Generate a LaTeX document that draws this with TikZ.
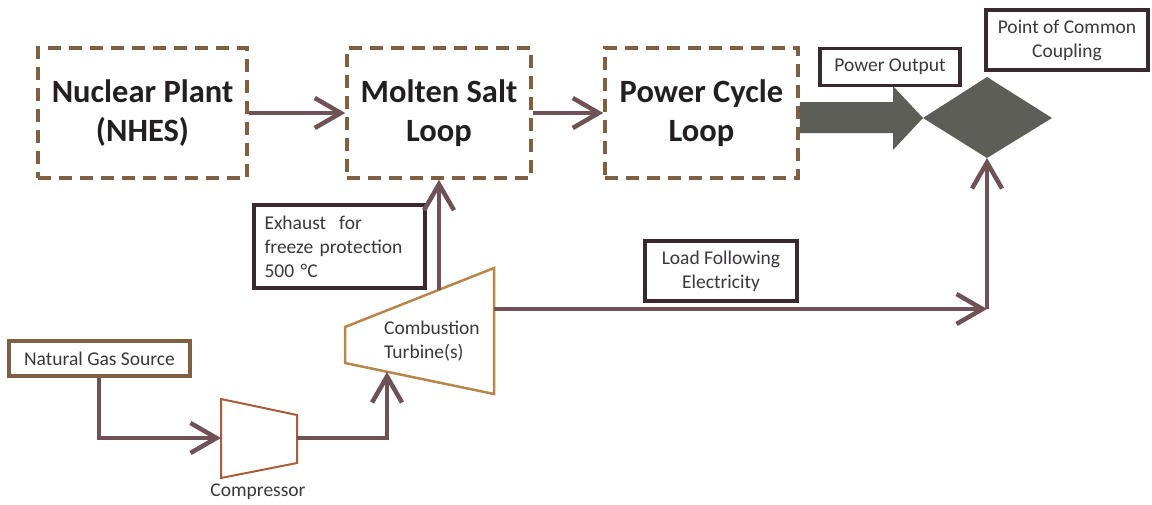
\documentclass[tikz,border=0pt]{standalone}
\usepackage{fontspec}
\setmainfont{Carlito}
\usetikzlibrary{arrows.meta}
\definecolor{loopbrown}{RGB}{128,96,64}
\definecolor{flowcol}{RGB}{110,82,86}
\definecolor{boxdark}{RGB}{58,42,46}
\definecolor{massfill}{RGB}{94,94,88}
\definecolor{bigtext}{RGB}{35,31,32}
\definecolor{smalltext}{RGB}{60,55,62}
\definecolor{turbcol}{RGB}{184,134,75}
\definecolor{compcol}{RGB}{168,92,58}
\tikzset{
  loopbox/.style={draw=loopbrown, line width=3.5pt, dash pattern=on 13pt off 8pt,
    align=center, text=bigtext, font=\fontsize{32.5}{39}\selectfont\bfseries,
    minimum height=130pt},
  flow/.style={draw=flowcol, line width=4.5pt,
    -{Straight Barb[length=26pt,width=30pt,line width=4.5pt]}},
  labelbox/.style={draw=boxdark, line width=3.5pt, fill=white, text=smalltext,
    font=\fontsize{19.5}{24}\selectfont, align=center, inner sep=0pt},
  plainlabel/.style={text=smalltext, font=\fontsize{19.5}{24}\selectfont, inner sep=0pt}
}
\begin{document}
\begin{tikzpicture}[x=1pt,y=-1pt]
\useasboundingbox (0,0) rectangle (1152,504);

% main loops
\node[loopbox, minimum width=209pt] (nuc) at (142.5,113) {Nuclear Plant\\(NHES)};
\node[loopbox, minimum width=184pt] (msl) at (439,113) {Molten Salt\\Loop};
\node[loopbox, minimum width=193pt] (pcl) at (701.5,113) {Power Cycle\\Loop};

\draw[flow] (nuc.east) -- (msl.west);
\draw[flow] (msl.east) -- (pcl.west);

% power output arrow and point of common coupling
\coordinate (poS) at (800,102);
\coordinate (pccL) at (923,118);
\coordinate (pccT) at (987,77);
\coordinate (pccR) at (1052,118);
\coordinate (pccB) at (987,158);
\fill[massfill] (pcl.east |- poS) -- (893,102) -- (893,86) -- (pccL) -- (893,150)
  -- (893,133) -- (pcl.east |- 0,133) -- cycle;
\fill[massfill] (pccL) -- (pccT) -- (pccR) -- (pccB) -- cycle;

\node[labelbox, minimum width=140pt, minimum height=37pt] (po) at (890,67) {Power Output};
\node[labelbox, minimum width=162pt, minimum height=60pt] (pcc) at (1067,40)
  {Point of Common\\Coupling};

% combustion turbine
\coordinate (tTL) at (494,268);
\coordinate (tBR) at (494,394);
\coordinate (tNL) at (345,327);
\coordinate (tNB) at (345,363);
\draw[turbcol, line width=2.5pt, line join=miter] (tNL) -- (tTL) -- (tBR) -- (tNB) -- cycle;
\node[plainlabel, align=left, anchor=west] (ctl) at (384,341) {Combustion\\Turbine(s)};
\coordinate (tExh) at (439,290);
\coordinate (tIn) at (387,372);
\coordinate (tOut) at (494,309);

% compressor
\coordinate (cL1) at (221,399);
\coordinate (cL2) at (221,478);
\coordinate (cR1) at (297,415);
\coordinate (cR2) at (297,463);
\draw[compcol, line width=2pt, line join=miter] (cL1) -- (cR1) -- (cR2) -- (cL2) -- cycle;
\node[plainlabel] (cpl) at (258,492) {Compressor};
\coordinate (cIn) at (221,438);
\coordinate (cOut) at (297,438);

% natural gas source
\node[labelbox, draw=loopbrown, minimum width=181pt, minimum height=35pt] (ngs) at (99.5,358.5)
  {Natural Gas Source};

% exhaust label
\node[labelbox, align=left, minimum width=171pt, minimum height=83pt, text width=150pt,
  inner sep=0pt] (exh) at (339.5,246.5)
  {Exhaust\ \ for\\freeze protection\\500 °C};

% load following label
\node[labelbox, minimum width=152pt, minimum height=60pt] (lfe) at (721,271)
  {Load Following\\Electricity};

% flows
\draw[flow] (ngs.south -| 99,0) -- (99,438) -- (cIn);
\draw[flow] (cOut) -- (tIn |- cOut) -- (tIn);
\draw[flow] (tExh) -- (msl.south);
\coordinate (lfCorner) at (pccB |- tOut);
\draw[flow] (tOut) -- (lfCorner);
\draw[flow] (lfCorner) -- (pccB);
\end{tikzpicture}
\end{document}
